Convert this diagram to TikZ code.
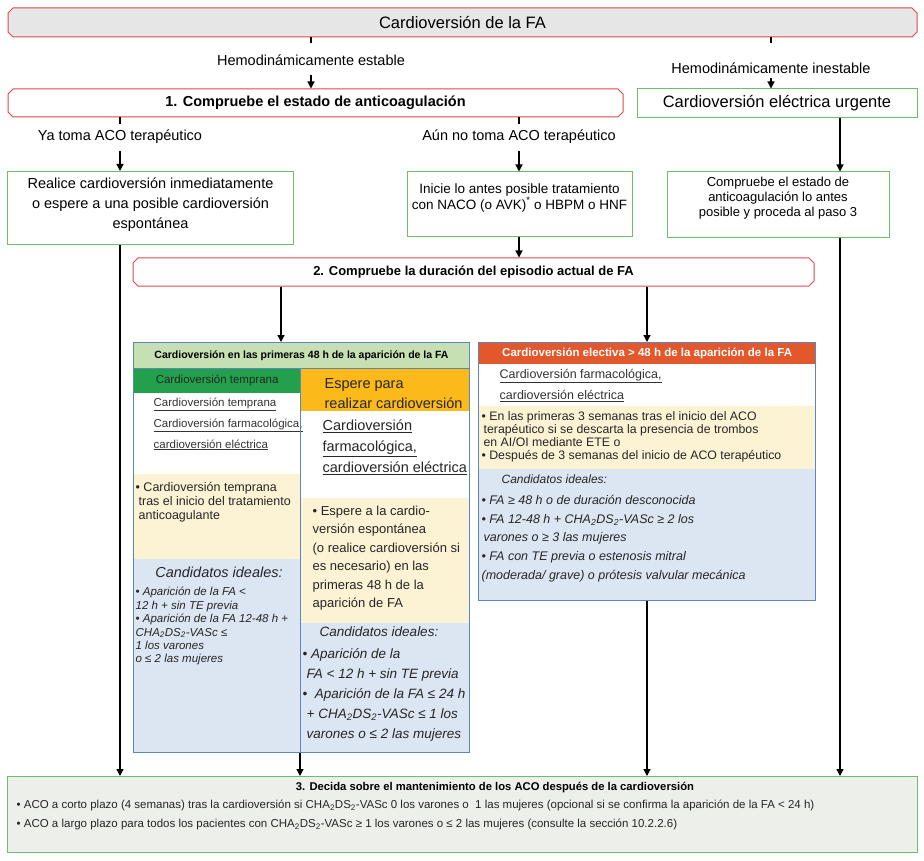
\documentclass[tikz,border=0pt]{standalone}
\usepackage{fontspec}
\setmainfont{Liberation Sans}
\usetikzlibrary{arrows.meta, shapes.misc}
\definecolor{fared}{HTML}{E0474C}
\definecolor{fagreen}{HTML}{6DBE6A}
\definecolor{fagray}{HTML}{E6E6E6}
\definecolor{fablue}{HTML}{5B87BF}
\definecolor{hdrgreen}{HTML}{C6E0B4}
\definecolor{tempgreen}{HTML}{22A04C}
\definecolor{waitorange}{HTML}{FBBA1A}
\definecolor{electred}{HTML}{E2582C}
\definecolor{paleyellow}{HTML}{FCF2D4}
\definecolor{paleblue}{HTML}{DCE6F2}
\definecolor{botfill}{HTML}{EDEFEB}
\newcommand{\fsz}[2]{\fontsize{#1}{#2}\selectfont}
\newcommand{\chads}{CHA\textsubscript{2}DS\textsubscript{2}-VASc}

\begin{document}
\begin{tikzpicture}[x=1pt, y=-1pt, ->, >={Triangle[length=7pt,width=7pt]}, line width=1.3pt,
  redbox/.style={chamfered rectangle, chamfered rectangle xsep=2.5pt, chamfered rectangle ysep=2.5pt, draw=fared, line width=1pt, fill=white, inner sep=0pt},
  greenbox/.style={rectangle, draw=fagreen, line width=1pt, fill=white, inner sep=2pt, align=center},
  lbl/.style={inner sep=0pt, font=\fsz{14.5}{18}},
  cell/.style={rectangle, anchor=north west, inner sep=0pt, draw=none},
  txt/.style={anchor=north west, inner sep=0pt, align=left}]
\useasboundingbox[fill=white] (0,0) rectangle (924,861);
\coordinate (xa) at (281,0);
\coordinate (xr) at (840,0);
% top row
\node[redbox, fill=fagray, minimum width=909pt, minimum height=29pt, font=\fsz{16.5}{20}] (cf) at (462.5,22.5) {Cardioversión de la FA};
\node[lbl] (stab) at (311,60) {Hemodinámicamente estable};
\node[lbl] (inst) at (771,68) {Hemodinámicamente inestable};
\node[redbox, minimum width=615pt, minimum height=28pt, font=\bfseries\fsz{14.5}{18}] (c1) at (315.5,103) {1. Compruebe el estado de anticoagulación};
\node[greenbox, minimum width=280pt, minimum height=29pt, font=\fsz{16.5}{20}] (urg) at (777,103.5) {Cardioversión eléctrica urgente};
\node[lbl] (ya) at (120,137) {Ya toma ACO terapéutico};
\node[lbl] (aun) at (519,137) {Aún no toma ACO terapéutico};
\node[greenbox, minimum width=286pt, minimum height=73pt, text depth=9pt, font=\fsz{14.5}{20}] (real) at (150.5,208) {Realice cardioversión inmediatamente\\o espere a una posible cardioversión\\espontánea};
\node[greenbox, minimum width=225pt, minimum height=65pt, text depth=16pt, font=\fsz{13.5}{14.5}] (ini) at (519.5,204.5) {Inicie lo antes posible tratamiento\\con NACO (o AVK)\textsuperscript{*} o HBPM o HNF};
\node[greenbox, minimum width=222pt, minimum height=66pt, text depth=16.5pt, font=\fsz{13}{15}] (cmp) at (778,205) {Compruebe el estado de\\anticoagulación lo antes\\posible y proceda al paso 3};
\node[redbox, minimum width=681pt, minimum height=28pt, font=\bfseries\fsz{13}{16}] (c2) at (473.5,272) {2. Compruebe la duración del episodio actual de FA};
% left panel
\node[cell, fill=hdrgreen, draw=fablue, line width=1pt, minimum width=336pt, minimum height=26pt, font=\bfseries\fsz{10.5}{12}] (lhdr) at (133,342) {Cardioversión en las primeras 48 h de la aparición de la FA};
\node[cell, fill=tempgreen, minimum width=167pt, minimum height=24pt, font=\fsz{11.5}{14}, text=black!85] (early) at (133,368) {Cardioversión temprana};
\node[cell, fill=paleyellow, minimum width=167pt, minimum height=85pt] (eyel) at (133,473) {};
\node[cell, fill=paleblue, minimum width=167pt, minimum height=194pt] (eblue) at (133,558) {};
\node[cell, fill=waitorange, minimum width=169pt, minimum height=42pt] (wait) at (300,368) {};
\node[cell, fill=paleyellow, minimum width=169pt, minimum height=125pt] (wyel) at (300,497) {};
\node[cell, fill=paleblue, minimum width=169pt, minimum height=130pt] (wblue) at (300,622) {};
\node[txt, font=\fsz{11.5}{20.7}, text=black!80] (etxt) at (153,397.5) {\underline{Cardioversión temprana}\\\underline{Cardioversión farmacológica,}\\\underline{cardioversión eléctrica}};
\node[txt, font=\fsz{12.5}{14}, text=black!85] (eytxt) at (135,481.5) {• Cardioversión temprana\\\hspace*{3pt}tras el inicio del tratamiento\\\hspace*{3pt}anticoagulante};
\node[inner sep=0pt, font=\itshape\fsz{14.5}{18}, text=black!85] (ecand) at (219,572) {Candidatos ideales:};
\node[txt, font=\itshape\fsz{11.5}{13.4}, text=black!85] (ebtxt) at (135,586.7) {• Aparición de la FA <\\12 h + sin TE previa\\• Aparición de la FA 12-48 h +\\\chads\ ≤\\1 los varones\\o ≤ 2 las mujeres};
\node[txt, font=\fsz{14.5}{20}, text=black!85] (wtxt) at (324,377.6) {Espere para\\realizar cardioversión};
\node[txt, font=\fsz{14.5}{21}, text=black!85] (wwtxt) at (322,419.6) {\underline{Cardioversión}\\\underline{farmacológica,}\\\underline{cardioversión eléctrica}};
\node[txt, font=\fsz{13}{18.5}, text=black!85] (wytxt) at (312,505.2) {• Espere a la cardio-\\versión espontánea\\(o realice cardioversión si\\es necesario) en las\\primeras 48 h de la\\aparición de FA};
\node[inner sep=0pt, font=\itshape\fsz{13.5}{16}, text=black!85] (wcand) at (379,632) {Candidatos ideales:};
\node[txt, font=\itshape\fsz{13.5}{20}, text=black!85] (wbtxt) at (302,648) {• Aparición de la\\\hspace*{4pt}FA < 12 h + sin TE previa\\•\ \ Aparición de la FA ≤ 24 h\\\hspace*{4pt}+ \chads\ ≤ 1 los\\\hspace*{4pt}varones o ≤ 2 las mujeres};
\node[cell, draw=fablue, line width=1pt, minimum width=336pt, minimum height=410pt] (lp) at (133,342) {};
\draw[-, fablue, line width=1pt] (wait.north west) -- (lp.south -| wait.west);
% right panel
\node[cell, fill=electred, minimum width=337pt, minimum height=21pt, font=\bfseries\fsz{11.5}{13}, text=white] (rhdr) at (478,342) {Cardioversión electiva > 48 h de la aparición de la FA};
\node[cell, fill=paleyellow, minimum width=337pt, minimum height=63pt] (ryel) at (478,405) {};
\node[cell, fill=paleblue, minimum width=337pt, minimum height=132pt] (rblue) at (478,468) {};
\node[txt, font=\fsz{12.5}{21}, text=black!80] (rwtxt) at (499,368.4) {\underline{Cardioversión farmacológica,}\\\underline{cardioversión eléctrica}};
\node[txt, font=\fsz{12.3}{13.3}, text=black!85] (rytxt) at (481,410.5) {• En las primeras 3 semanas tras el inicio del ACO\\\hspace*{2pt}terapéutico si se descarta la presencia de trombos\\\hspace*{2pt}en AI/OI mediante ETE o\\• Después de 3 semanas del inicio de ACO terapéutico};
\node[anchor=west, inner sep=0pt, font=\itshape\fsz{12}{14}, text=black!85] (rcand) at (501,479) {Candidatos ideales:};
\node[txt, font=\itshape\fsz{12.5}{18.8}, text=black!85] (rbtxt) at (481,494.4) {• FA ≥ 48 h o de duración desconocida\\• FA 12-48 h + \chads\ ≥ 2 los\\\hspace*{2pt}varones o ≥ 3 las mujeres\\• FA con TE previa o estenosis mitral\\(moderada/ grave) o prótesis valvular mecánica};
\node[cell, draw=fablue, line width=1pt, minimum width=337pt, minimum height=258pt] (rp) at (478,342) {};
% bottom box
\node[cell, fill=botfill, draw=fagreen, line width=1pt, minimum width=910pt, minimum height=76pt] (bot) at (7,776) {};
\node[inner sep=0pt, font=\bfseries\fsz{11.25}{14}] (btitle) at (495,788) {3. Decida sobre el mantenimiento de los ACO después de la cardioversión};
\node[txt, font=\fsz{11.5}{19}, text=black!85] (btxt) at (16,799.8) {• ACO a corto plazo (4 semanas) tras la cardioversión si \chads\ 0 los varones o\ \ 1 las mujeres (opcional si se confirma la aparición de la FA < 24 h)\\• ACO a largo plazo para todos los pacientes con \chads\ ≥ 1 los varones o ≤ 2 las mujeres (consulte la sección 10.2.2.6)};
% connectors
\draw[-, shorten >=10.5pt] (cf.south -| stab) -- (stab.north);
\draw[shorten <=9pt] (stab.south) -- (c1.north -| stab);
\draw[-, shorten >=18.5pt] (cf.south -| inst) -- (inst.north);
\draw[shorten <=4pt] (inst.south) -- (urg.north -| inst);
\draw[-, shorten >=6pt] (c1.south -| ya) -- (ya.north);
\draw[shorten <=7pt] (ya.south) -- (real.north -| ya);
\draw[-, shorten >=6pt] (c1.south -| aun) -- (aun.north);
\draw[shorten <=7pt] (aun.south) -- (ini.north -| aun);
\draw (urg.south -| xr) -- (cmp.north -| xr);
\draw (ini.south -| aun) -- (c2.north -| aun);
\draw (c2.south -| xa) -- (lp.north -| xa);
\draw (c2.south -| rp.north) -- (rp.north);
\draw (real.south -| ya) -- (bot.north -| ya);
\draw (lp.south -| wait.west) -- (bot.north -| wait.west);
\draw (rp.south) -- (bot.north -| rp.south);
\draw (cmp.south -| xr) -- (bot.north -| xr);
\end{tikzpicture}
\end{document}
